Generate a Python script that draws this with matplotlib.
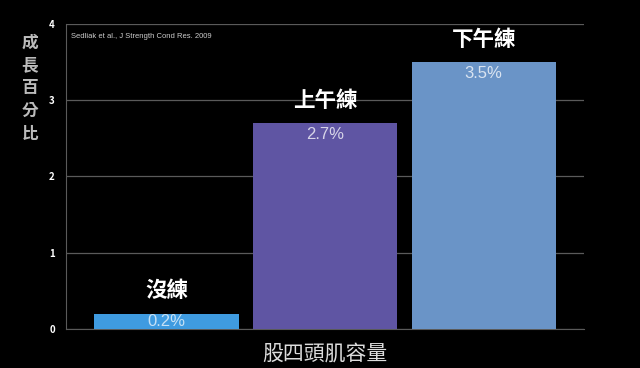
import matplotlib.pyplot as plt

plt.rcParams['font.family'] = ['Noto Sans CJK TC', 'DejaVu Sans']

groups = ['沒練', '上午練', '下午練']
growth = [0.2, 2.7, 3.5]
value_labels = ['0.2%', '2.7%', '3.5%']
colors = ['#3f9be0', '#5f55a3', '#6a94c7']
yticks = [0, 1, 2, 3, 4]

fig = plt.figure(figsize=(6.4, 3.68), dpi=100, facecolor='black')
ax = fig.add_axes([0.103, 0.106, 0.81, 0.829])
ax.set_facecolor('black')

x = list(range(len(growth)))
bars = ax.bar(x, growth, width=0.91, color=colors, zorder=3)

ax.set_xlim(-0.634, 2.634)
ax.set_ylim(0, 4)
ax.set_yticks(yticks)
ax.set_xticks([])
ax.tick_params(axis='y', colors='white', labelsize=7, length=0, pad=8)
for t in ax.get_yticklabels():
    t.set_fontweight('bold')
ax.yaxis.grid(True, color='#5a5a5a', linewidth=0.9, zorder=0)
for side in ['right', 'top']:
    ax.spines[side].set_visible(False)
ax.spines['left'].set_color('#5a5a5a')
ax.spines['bottom'].set_color('#5a5a5a')

for xi, v, g, lab in zip(x, growth, groups, value_labels):
    ax.annotate(g, (xi, v), xytext=(0, 23), textcoords='offset pixels',
                ha='center', va='center', color='white', fontsize=15.5,
                fontweight='heavy')
    if v < 0.5:
        ax.text(xi, v / 2, lab, ha='center', va='center', color='white',
                alpha=0.7, fontsize=12, family=['Liberation Sans', 'DejaVu Sans'])
    else:
        ax.annotate(lab, (xi, v), xytext=(0, -4), textcoords='offset pixels',
                    ha='center', va='top', color='white', alpha=0.75,
                    fontsize=12, family=['Liberation Sans', 'DejaVu Sans'])

ax.text(0.01, 0.97, 'Sedliak et al., J Strength Cond Res. 2009',
        transform=ax.transAxes, ha='left', va='top', color='#cccccc',
        fontsize=5.5, family=['Liberation Sans', 'DejaVu Sans'])

fig.text(30 / 640, 1 - 88 / 368, '\n'.join('成長百分比'), ha='center',
         va='center', color='#bbbbbb', fontsize=12, fontweight='bold',
         linespacing=1.35)
fig.text(325 / 640, 1 - 354 / 368, '股四頭肌容量', ha='center', va='center',
         color='#dddddd', fontsize=15)

fig.savefig('out.png', dpi=100, facecolor='black')
